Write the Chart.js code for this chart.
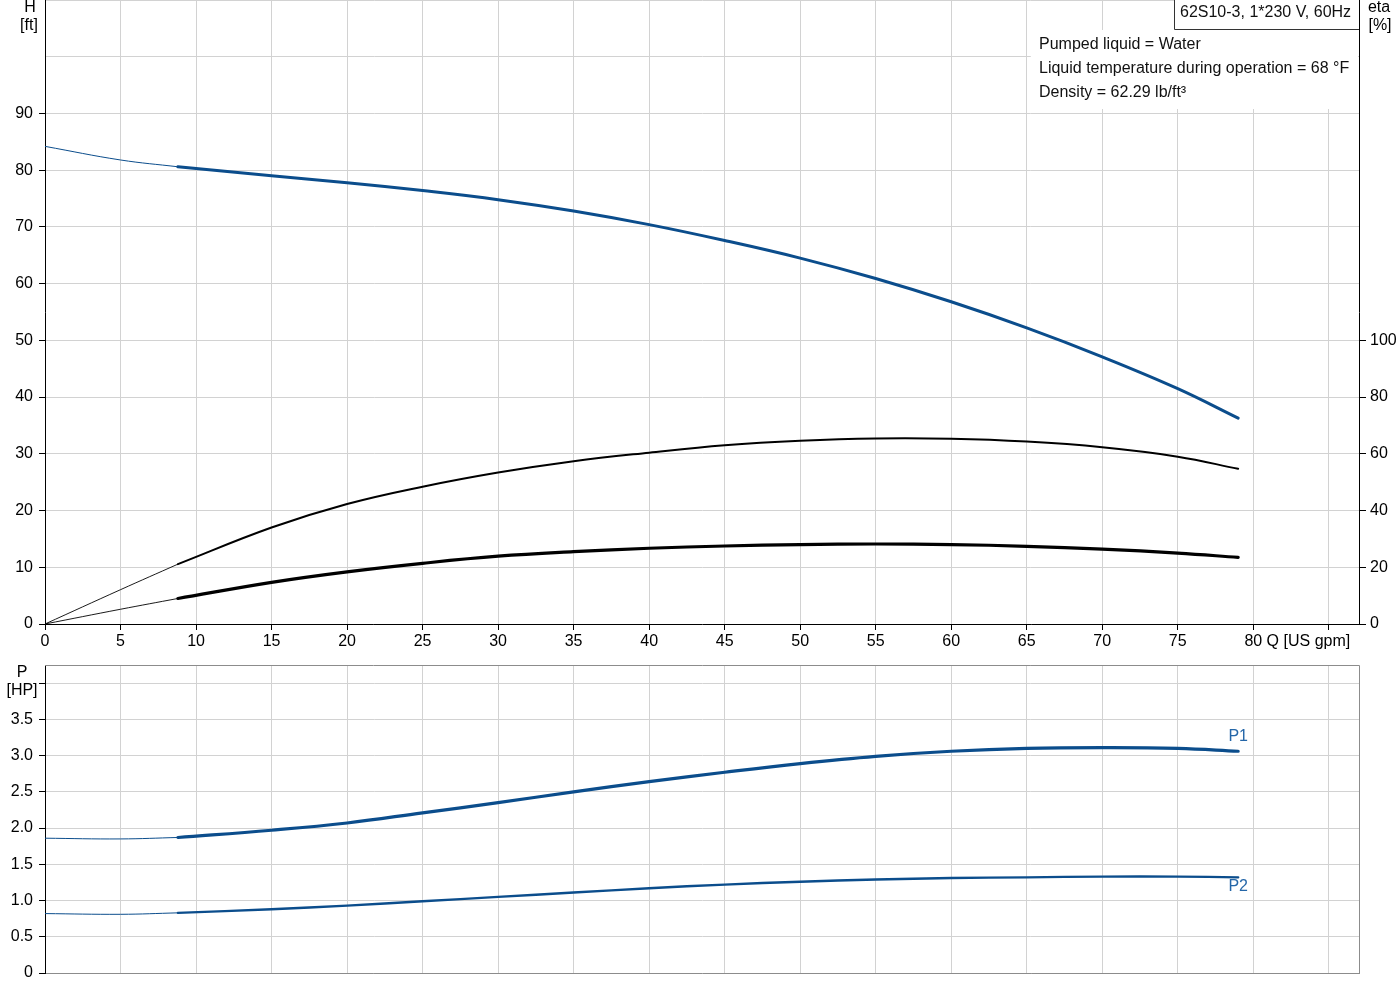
<!DOCTYPE html>
<html><head><meta charset="utf-8">
<script src="https://cdn.jsdelivr.net/npm/chart.js@4.4.1/dist/chart.umd.min.js"></script>
<style>
html,body{margin:0;padding:0;background:#fff;overflow:hidden;width:1400px;height:1000px;}
#c1{position:absolute;left:0;top:0;}
#c2{position:absolute;left:0;top:640px;}
</style></head><body>
<canvas id="c1" width="1400" height="660"></canvas>
<canvas id="c2" width="1400" height="360"></canvas>
<script>
// ---------- data ----------
const qThin = [0, 5, 8.8];
const qMain = [8.8, 15, 20, 25, 30, 35, 40, 45, 50, 55, 60, 65, 70, 75, 79];

const headThin = [84.2, 81.8, 80.6];
const headMain = [80.6, 79.0, 77.8, 76.4, 74.8, 72.8, 70.4, 67.6, 64.5, 60.9, 56.8, 52.2, 47.1, 41.5, 36.3];

const etaThin = [0, 12.1, 21.1];
const etaMain = [21.1, 34.0, 42.3, 48.4, 53.4, 57.4, 60.4, 63.0, 64.6, 65.4, 65.3, 64.3, 62.3, 59.0, 54.7];

const etaTotThin = [0, 5.2, 9.0];
const etaTotMain = [9.0, 14.7, 18.4, 21.4, 23.9, 25.5, 26.7, 27.5, 28.0, 28.2, 28.0, 27.4, 26.4, 25.0, 23.5];

const p1Thin = [1.86, 1.85, 1.87];
const p1Main = [1.87, 1.97, 2.07, 2.21, 2.35, 2.50, 2.64, 2.77, 2.89, 2.99, 3.06, 3.10, 3.11, 3.10, 3.06];

const p2Thin = [0.82, 0.81, 0.83];
const p2Main = [0.83, 0.88, 0.93, 0.99, 1.05, 1.11, 1.17, 1.22, 1.26, 1.29, 1.31, 1.32, 1.33, 1.33, 1.32];

// axis ranges / tick labels
const qMax = 87, qStep = 5, qLastLabel = 80;
const hMax = 110, hStep = 10, hLastLabel = 90;
const etaMax = 220, etaStep = 20, etaLastLabel = 100;
const pMax = 4.25, pStep = 0.5, pLastLabel = 3.5;

const infoTitle = '62S10-3, 1*230 V, 60Hz';
const infoLines = ['Pumped liquid = Water', 'Liquid temperature during operation = 68 \u00B0F', 'Density = 62.29 lb/ft\u00B3'];
const seriesNames = ['P1', 'P2'];

// ---------- styling ----------
const FONT = "'Liberation Sans', Arial, sans-serif";
const BLUE = '#0b4d8c';
const LBLUE = '#2466a8';
const GRID = '#d2d2d2';
const TRANSP = 'rgba(0,0,0,0)';
Chart.defaults.font.family = FONT;
Chart.defaults.font.size = 16;
Chart.defaults.color = '#000';

const pts = (xs, ys) => xs.map((x, i) => ({x: x, y: ys[i]}));
const zeroPad = s => { s.paddingTop = 0; s.paddingBottom = 0; s.paddingLeft = 0; s.paddingRight = 0; };
const line = (data, color, width, axis) => ({
  data: data, borderColor: color, borderWidth: width, showLine: true, pointRadius: 0,
  tension: 0.4, fill: false, yAxisID: axis,
  borderCapStyle: 'round', borderJoinStyle: 'round'
});

// ---------- top chart ----------
const topPlugin = {
  id: 'topAnnot',
  beforeDatasetsDraw(chart) {
    const ctx = chart.ctx, a = chart.chartArea;
    ctx.save();
    ctx.fillStyle = '#fff';
    ctx.fillRect(a.right - 328, 30, 327, 79);
    ctx.fillRect(1174, 0, a.right - 1174, 29);
    ctx.strokeStyle = '#333';
    ctx.lineWidth = 1;
    ctx.beginPath();
    ctx.moveTo(1174.5, 0); ctx.lineTo(1174.5, 29.5); ctx.lineTo(a.right, 29.5);
    ctx.stroke();
    ctx.restore();
  },
  afterDraw(chart) {
    const ctx = chart.ctx, a = chart.chartArea, xs = chart.scales.x;
    ctx.save();
    ctx.fillStyle = '#000';
    ctx.font = '16px ' + FONT;
    ctx.textBaseline = 'middle';
    ctx.textAlign = 'center';
    ctx.fillText('H', 30, 8);
    ctx.fillText('[ft]', 29, 26);
    ctx.fillText('eta', 1379, 8);
    ctx.fillText('[%]', 1380, 26);
    ctx.textAlign = 'left';
    ctx.fillStyle = '#111';
    ctx.fillText(infoTitle, 1180, 13);
    infoLines.forEach((t, i) => ctx.fillText(t, a.right - 320, 45 + i * 24));
    ctx.fillStyle = '#000';
    const px80 = xs.getPixelForValue(qLastLabel);
    const w80 = ctx.measureText(String(qLastLabel)).width;
    ctx.fillText(' Q [US gpm]', px80 + w80 / 2, a.bottom + 8 + 9.6);
    ctx.restore();
  }
};

new Chart(document.getElementById('c1'), {
  type: 'scatter',
  data: {
    datasets: [
      line(pts(qThin, headThin), BLUE, 1, 'y'),
      line(pts(qMain, headMain), BLUE, 3, 'y'),
      line(pts(qThin, etaThin), '#000', 0.9, 'y2'),
      line(pts(qMain, etaMain), '#000', 2, 'y2'),
      line(pts(qThin, etaTotThin), '#000', 0.9, 'y2'),
      line(pts(qMain, etaTotMain), '#000', 3.2, 'y2')
    ]
  },
  options: {
    responsive: false, animation: false,
    layout: {padding: 0},
    plugins: {legend: {display: false}, tooltip: {enabled: false}},
    scales: {
      x: {
        type: 'linear', position: 'bottom', min: 0, max: qMax,
        ticks: {stepSize: qStep, includeBounds: false, autoSkip: false, maxRotation: 0, padding: 2,
                callback: v => v <= qLastLabel ? String(v) : ''},
        grid: {color: GRID, tickColor: '#000', tickLength: 6},
        border: {color: '#000'},
        afterFit: s => { s.height = 36; zeroPad(s); }
      },
      y: {
        type: 'linear', position: 'left', min: 0, max: hMax,
        ticks: {stepSize: hStep, includeBounds: false, autoSkip: false, padding: 6,
                callback: v => v <= hLastLabel ? String(v) : ''},
        grid: {color: GRID, tickLength: 6,
               tickColor: c => (c.tick && c.tick.value > hLastLabel) ? TRANSP : '#000'},
        border: {color: '#000'},
        afterFit: s => { s.width = 45; zeroPad(s); }
      },
      y2: {
        type: 'linear', position: 'right', min: 0, max: etaMax,
        ticks: {stepSize: etaStep, includeBounds: false, autoSkip: false, padding: 4,
                callback: v => v <= etaLastLabel ? String(v) : ''},
        grid: {drawOnChartArea: false, tickLength: 7,
               tickColor: c => (c.tick && c.tick.value > etaLastLabel) ? TRANSP : '#000'},
        border: {color: '#000'},
        afterFit: s => { s.width = 41; zeroPad(s); }
      }
    }
  },
  plugins: [topPlugin]
});

// ---------- bottom chart ----------
const botPlugin = {
  id: 'botAnnot',
  beforeDatasetsDraw(chart) {
    const ctx = chart.ctx, a = chart.chartArea;
    ctx.save();
    ctx.strokeStyle = '#8c8c8c';
    ctx.lineWidth = 1;
    ctx.beginPath();
    ctx.moveTo(a.left, Math.floor(a.top) + 0.5);
    ctx.lineTo(Math.floor(a.right) + 0.5, Math.floor(a.top) + 0.5);
    ctx.lineTo(Math.floor(a.right) + 0.5, Math.floor(a.bottom) + 0.5);
    ctx.stroke();
    ctx.restore();
  },
  afterDraw(chart) {
    const ctx = chart.ctx;
    ctx.save();
    ctx.font = '16px ' + FONT;
    ctx.fillStyle = '#000';
    ctx.textAlign = 'center';
    ctx.textBaseline = 'middle';
    ctx.fillText('P', 22, 33);
    ctx.fillText('[HP]', 22, 51);
    ctx.fillStyle = LBLUE;
    const e1 = chart.getDatasetMeta(1).data, e2 = chart.getDatasetMeta(3).data;
    const l1 = e1[e1.length - 1], l2 = e2[e2.length - 1];
    ctx.fillText(seriesNames[0], l1.x, l1.y - 15);
    ctx.fillText(seriesNames[1], l2.x, l2.y + 9);
    ctx.restore();
  }
};

new Chart(document.getElementById('c2'), {
  type: 'scatter',
  data: {
    datasets: [
      line(pts(qThin, p1Thin), BLUE, 1, 'y'),
      line(pts(qMain, p1Main), BLUE, 3.2, 'y'),
      line(pts(qThin, p2Thin), BLUE, 1, 'y'),
      line(pts(qMain, p2Main), BLUE, 2.4, 'y')
    ]
  },
  options: {
    responsive: false, animation: false,
    layout: {padding: {top: 25, right: 41, left: 0, bottom: 0}},
    plugins: {legend: {display: false}, tooltip: {enabled: false}},
    scales: {
      x: {
        type: 'linear', position: 'bottom', min: 0, max: qMax,
        ticks: {display: false, stepSize: qStep, includeBounds: false, autoSkip: false},
        grid: {color: GRID, drawTicks: false},
        border: {color: '#8c8c8c'},
        afterFit: s => { s.height = 27; zeroPad(s); }
      },
      y: {
        type: 'linear', position: 'left', min: 0, max: pMax,
        ticks: {stepSize: pStep, includeBounds: false, autoSkip: false, padding: 6,
                callback: v => v > pLastLabel ? '' : (v === 0 ? '0' : v.toFixed(1))},
        grid: {color: GRID, tickLength: 6, tickColor: '#000'},
        border: {color: '#000'},
        afterFit: s => { s.width = 45; zeroPad(s); }
      }
    }
  },
  plugins: [botPlugin]
});
</script>
</body></html>
